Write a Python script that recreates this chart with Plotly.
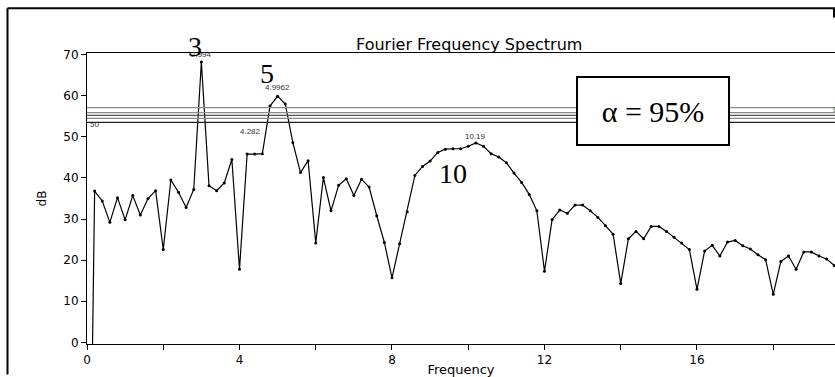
import plotly.graph_objects as go

# ---- data ----
freq = [0.0, 0.2, 0.4, 0.6, 0.8, 1.0, 1.2, 1.4, 1.6, 1.8,
        2.0, 2.2, 2.4, 2.6, 2.8, 3.0, 3.2, 3.4, 3.6, 3.8,
        4.0, 4.2, 4.4, 4.6, 4.8, 5.0, 5.2, 5.4, 5.6, 5.8,
        6.0, 6.2, 6.4, 6.6, 6.8, 7.0, 7.2, 7.4, 7.6, 7.8,
        8.0, 8.2, 8.4, 8.6, 8.8, 9.0, 9.2, 9.4, 9.6, 9.8,
        10.0, 10.2, 10.4, 10.6, 10.8, 11.0, 11.2, 11.4, 11.6, 11.8,
        12.0, 12.2, 12.4, 12.6, 12.8, 13.0, 13.2, 13.4, 13.6, 13.8,
        14.0, 14.2, 14.4, 14.6, 14.8, 15.0, 15.2, 15.4, 15.6, 15.8,
        16.0, 16.2, 16.4, 16.6, 16.8, 17.0, 17.2, 17.4, 17.6, 17.8,
        18.0, 18.2, 18.4, 18.6, 18.8, 19.0, 19.2, 19.4, 19.6, 19.8]
db = [-100.0, 36.8, 34.4, 29.2, 35.2, 29.8, 35.7, 31.0, 35.0, 36.9,
      22.6, 39.5, 36.5, 32.8, 37.2, 68.2, 38.1, 36.9, 38.8, 44.5,
      17.8, 45.8, 45.8, 45.9, 57.5, 59.9, 58.0, 48.6, 41.3, 44.2,
      24.2, 40.1, 32.0, 38.2, 39.8, 35.7, 39.7, 37.8, 30.8, 24.3,
      15.7, 24.0, 31.8, 40.6, 42.8, 44.1, 46.2, 47.0, 47.1, 47.1,
      47.7, 48.5, 47.7, 45.9, 45.1, 43.7, 41.2, 38.9, 36.0, 32.0,
      17.3, 29.9, 32.2, 31.4, 33.4, 33.4, 32.0, 30.4, 28.4, 26.3,
      14.3, 25.2, 27.0, 25.2, 28.2, 28.2, 27.0, 25.6, 24.2, 22.6,
      12.9, 22.2, 23.6, 21.0, 24.4, 24.8, 23.5, 22.7, 21.3, 20.1,
      11.7, 19.7, 21.0, 17.8, 22.0, 22.0, 21.0, 20.3, 18.7, 17.5]

conf_levels = [57.1, 55.9, 55.2, 54.5, 53.5]
conf_colors = ["#8a8a8a", "#8a8a8a", "#555555", "#8a8a8a", "#222222"]

peak_x = [2.994, 4.9962, 4.282, 10.19]
peak_y = [70.1, 62.0, 51.4, 50.2]
peak_labels = ["2.994", "4.9962", "4.282", "10.19"]

big_x = [2.83, 4.72, 9.6]
big_y = [72.0, 65.3, 41.1]
big_labels = ["3", "5", "10"]

xtick_vals = [0, 2, 4, 6, 8, 10, 12, 14, 16, 18]
xtick_text = ["0", "", "4", "", "8", "", "12", "", "16", ""]
ytick_vals = [0, 10, 20, 30, 40, 50, 60, 70]

W, H = 835, 377
L, R, T, B = 87, 0, 53, 28
PW, PH = W - L - R, H - T - B
Y0, Y1 = -0.4, 70.4


def px(xp):
    return (xp - L) / PW


def py(yp):
    return (H - B - yp) / PH


def yv2paper(v):
    return (v - Y0) / (Y1 - Y0)


fig = go.Figure()
fig.add_trace(go.Scatter(x=freq, y=db, mode="lines+markers",
                         line=dict(color="black", width=1.2),
                         marker=dict(color="black", size=3),
                         showlegend=False, hoverinfo="skip"))

shapes = []
for lv, c in zip(conf_levels, conf_colors):
    shapes.append(dict(type="line", xref="paper", yref="y", x0=0, x1=1,
                       y0=lv, y1=lv, line=dict(color=c, width=1.3)))
# outer frame
shapes.append(dict(type="line", xref="paper", yref="paper", x0=px(7.5), x1=px(7.5),
                   y0=py(7.5), y1=py(380), line=dict(color="black", width=2)))
shapes.append(dict(type="line", xref="paper", yref="paper", x0=px(7.5), x1=px(840),
                   y0=py(7.5), y1=py(7.5), line=dict(color="black", width=2)))
shapes.append(dict(type="line", xref="paper", yref="paper", x0=px(834), x1=px(834),
                   y0=py(7.5), y1=py(17), line=dict(color="black", width=2)))

ann = []
for x, y, t in zip(peak_x, peak_y, peak_labels):
    ann.append(dict(x=x, y=yv2paper(y), xref="x", yref="paper", text=t, showarrow=False,
                    yanchor="middle",
                    font=dict(family="Liberation Sans", size=8, color="#333")))
for x, y, t in zip(big_x, big_y, big_labels):
    ann.append(dict(x=x, y=yv2paper(y), xref="x", yref="paper", text=t, showarrow=False,
                    yanchor="middle",
                    font=dict(family="Liberation Serif", size=28, color="black")))
ann.append(dict(x=px(88), y=yv2paper(52.9), xref="paper", yref="paper", text="50",
                xanchor="left", yanchor="middle",
                showarrow=False, font=dict(family="Liberation Sans", size=8, color="#333")))
ann.append(dict(x=px(831), y=yv2paper(56.6), xref="paper", yref="paper", text="95",
                xanchor="left", yanchor="middle",
                showarrow=False, font=dict(family="Liberation Sans", size=8, color="#333")))
ann.append(dict(x=14.85, y=yv2paper(56.2), xref="x", yref="paper", text="α = 95%",
                showarrow=False, yanchor="middle",
                width=150, height=66, bgcolor="white", bordercolor="black",
                borderwidth=2, borderpad=0,
                font=dict(family="Liberation Serif", size=30, color="black")))
ann.append(dict(x=px(469), y=py(44), xref="paper", yref="paper",
                text="Fourier Frequency Spectrum", showarrow=False,
                xanchor="center", yanchor="middle",
                font=dict(family="DejaVu Sans", size=16, color="black")))

fig.update_layout(
    width=W, height=H,
    margin=dict(l=L, r=R, t=T, b=B),
    paper_bgcolor="white", plot_bgcolor="white",
    shapes=shapes, annotations=ann,
    xaxis=dict(range=[0, 19.62], tickvals=xtick_vals, ticktext=xtick_text,
               ticks="outside", ticklen=5, tickcolor="black",
               showline=True, linecolor="black", linewidth=1, mirror=True,
               showgrid=False, zeroline=False,
               tickfont=dict(family="DejaVu Sans", size=12, color="black"),
               title=dict(text="Frequency", standoff=0,
                          font=dict(family="DejaVu Sans", size=13, color="black"))),
    yaxis=dict(range=[Y0, Y1], tickvals=ytick_vals,
               ticks="outside", ticklen=5, tickcolor="black",
               showline=True, linecolor="black", linewidth=1,
               showgrid=False, zeroline=False,
               tickfont=dict(family="DejaVu Sans", size=12, color="black"),
               title=dict(text="dB", standoff=14,
                          font=dict(family="DejaVu Sans", size=12, color="black"))),
)

fig.write_html("out.html")
